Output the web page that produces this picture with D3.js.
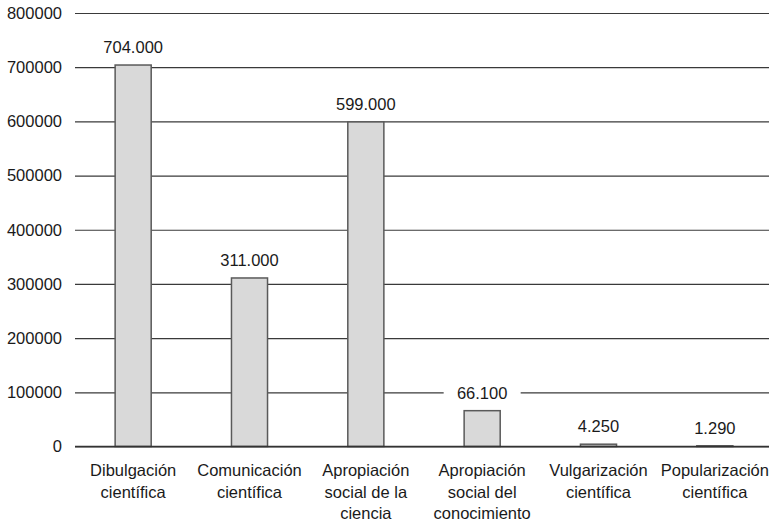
<!DOCTYPE html>
<html>
<head>
<meta charset="utf-8">
<script src="https://cdn.jsdelivr.net/npm/d3@7"></script>
<style>
  body { margin: 0; background: #fff; }
  svg text { font-family: "Liberation Sans", Arial, sans-serif; fill: #1a1a1a; }
</style>
</head>
<body>
<div id="chart"></div>
<script>
const categories = [
  ["Dibulgación", "científica"],
  ["Comunicación", "científica"],
  ["Apropiación", "social de la", "ciencia"],
  ["Apropiación", "social del", "conocimiento"],
  ["Vulgarización", "científica"],
  ["Popularización", "científica"]
];
const values = [704000, 311000, 599000, 66100, 4250, 1290];
const valueLabels = ["704.000", "311.000", "599.000", "66.100", "4.250", "1.290"];
const yTicks = [0, 100000, 200000, 300000, 400000, 500000, 600000, 700000, 800000];

const width = 769;
const height = 523;
const plotLeft = 75;
const plotTop = 13;
const plotBottom = 446.5;
const fontSize = 16.5;

const svg = d3.select("#chart")
  .append("svg")
  .attr("width", width)
  .attr("height", height);

const xScale = d3.scaleBand()
  .domain(d3.range(values.length))
  .range([plotLeft, 773])
  .paddingInner(0.69)
  .paddingOuter(0.345);

const yScale = d3.scaleLinear()
  .domain([0, 800000])
  .range([plotBottom, plotTop]);

// gridlines + tick labels
const yAxis = d3.axisLeft(yScale)
  .tickValues(yTicks)
  .tickSize(-(773 - plotLeft))
  .tickPadding(13)
  .tickFormat(d3.format("d"));

const gy = svg.append("g")
  .attr("transform", `translate(${plotLeft}, 0)`)
  .call(yAxis);
gy.select(".domain").remove();
gy.selectAll(".tick line").attr("stroke", "#3a3a3a").attr("stroke-width", 1.2);
gy.selectAll(".tick text").attr("font-size", fontSize).attr("fill", "#1a1a1a")
  .attr("font-family", "Liberation Sans, Arial, sans-serif");

// value labels with white background boxes
const labels = svg.selectAll(".vlabel")
  .data(values)
  .enter()
  .append("g")
  .attr("class", "vlabel")
  .attr("transform", (d, i) => `translate(${xScale(i) + xScale.bandwidth() / 2}, ${yScale(d) - 12})`);

labels.append("rect")
  .attr("x", -38.5)
  .attr("y", -17)
  .attr("width", 77)
  .attr("height", 22)
  .attr("fill", "#fff");

labels.append("text")
  .attr("text-anchor", "middle")
  .attr("font-size", fontSize)
  .text((d, i) => valueLabels[i]);

// bars
svg.selectAll(".bar")
  .data(values)
  .enter()
  .append("rect")
  .attr("class", "bar")
  .attr("x", (d, i) => xScale(i))
  .attr("y", d => yScale(d))
  .attr("width", xScale.bandwidth())
  .attr("height", d => plotBottom - yScale(d))
  .attr("fill", "#d9d9d9")
  .attr("stroke", "#5a5a5a")
  .attr("stroke-width", 1.5);

// baseline
svg.append("line")
  .attr("x1", plotLeft)
  .attr("x2", width)
  .attr("y1", yScale(0))
  .attr("y2", yScale(0))
  .attr("stroke", "#333")
  .attr("stroke-width", 1.4);

// category labels
const cat = svg.selectAll(".cat")
  .data(categories)
  .enter()
  .append("text")
  .attr("class", "cat")
  .attr("text-anchor", "middle")
  .attr("font-size", fontSize)
  .attr("x", (d, i) => xScale(i) + xScale.bandwidth() / 2)
  .attr("y", 476);

cat.selectAll("tspan")
  .data(d => d)
  .enter()
  .append("tspan")
  .attr("x", function () { return d3.select(this.parentNode).attr("x"); })
  .attr("dy", (d, i) => i === 0 ? 0 : 21.5)
  .text(d => d);
</script>
</body>
</html>
